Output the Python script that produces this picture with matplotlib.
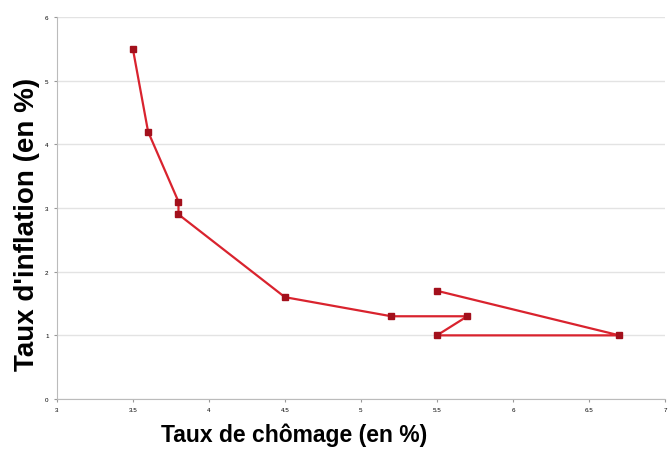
import matplotlib
matplotlib.use("Agg")
from matplotlib import pyplot as plt

chomage = [3.5, 3.6, 3.8, 3.8, 4.5, 5.2, 5.7, 5.5, 6.7, 5.5]   # taux de chômage (%)
inflation = [5.5, 4.2, 3.1, 2.9, 1.6, 1.3, 1.3, 1.0, 1.0, 1.7]  # taux d'inflation (%)
xticks = [3, 3.5, 4, 4.5, 5, 5.5, 6, 6.5, 7]
yticks = [0, 1, 2, 3, 4, 5, 6]

plt.rcParams['font.family'] = ['Liberation Sans', 'DejaVu Sans']

fig = plt.figure(figsize=(6.69, 4.52), dpi=100)
ax = fig.add_axes([0.085, 0.115, 0.909, 0.845])

ax.plot(chomage, inflation, color='#d9232e', linewidth=1.6,
        marker='s', markersize=3.8, markerfacecolor='#a3101c', markeredgecolor='#a3101c')

ax.set_xlim(3, 7)
ax.set_ylim(0, 6)
ax.set_xticks(xticks)
ax.set_xticklabels(['3', '3.5', '4', '4.5', '5', '5.5', '6', '6.5', '7'])
ax.set_yticks(yticks)
ax.tick_params(labelsize=4.5, length=2, color='#999999', pad=4)
ax.grid(axis='y', color='#e3e3e3', linewidth=1)
ax.set_axisbelow(True)
for s in ['top', 'right']:
    ax.spines[s].set_visible(False)
for s in ['left', 'bottom']:
    ax.spines[s].set_color('#bbbbbb')

ax.set_xlabel('Taux de chômage (en %)', fontsize=16.5, fontweight='bold')
ax.xaxis.set_label_coords(0.39, -0.062)
ax.set_ylabel("Taux d'inflation (en %)", fontsize=20, fontweight='bold')
ax.yaxis.set_label_coords(-0.028, 0.46)

fig.savefig('out.png', dpi=100)
